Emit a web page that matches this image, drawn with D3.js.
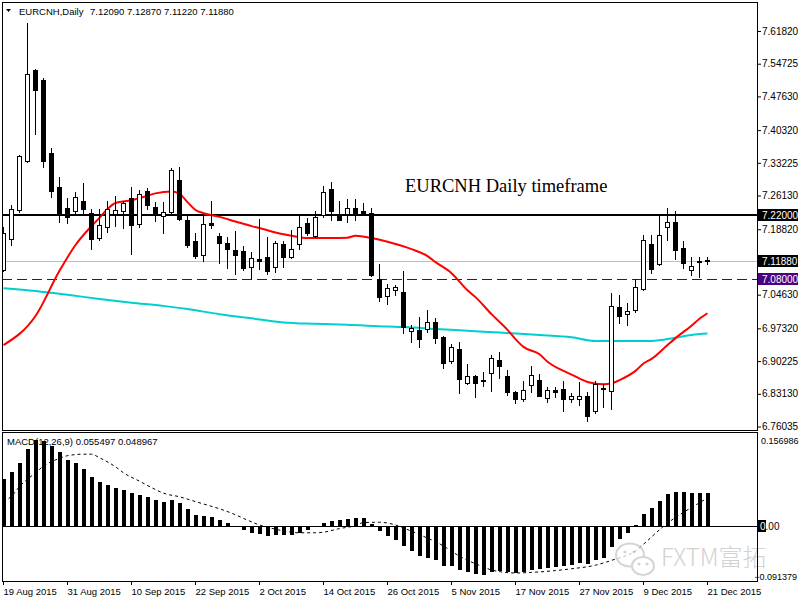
<!DOCTYPE html>
<html>
<head>
<meta charset="utf-8">
<script src="https://cdn.jsdelivr.net/npm/d3@7"></script>
<style>
  body { margin: 0; background: #fff; }
  text { font-family: "Liberation Sans", Arial, sans-serif; }
</style>
</head>
<body>
<script>
// Daily EURCNH bars, 19 Aug 2015 .. 21 Dec 2015 (index 0..88)
const open  = [7.100,7.168,7.230,7.336,7.534,7.512,7.353,7.279,7.234,7.228,
               7.250,7.223,7.170,7.194,7.221,7.228,7.255,7.199,7.271,7.236,
               7.216,7.226,7.294,7.208,7.163,7.132,7.202,7.174,7.158,7.143,
               7.141,7.106,7.124,7.127,7.106,7.156,7.129,7.156,7.201,7.174,
               7.219,7.276,7.219,7.221,7.234,7.228,7.223,7.080,7.043,7.056,
               7.051,6.967,6.970,6.971,6.986,6.954,6.902,6.929,6.854,6.869,
               6.861,6.876,6.905,6.870,6.835,6.819,6.850,6.861,6.822,6.840,
               6.841,6.819,6.819,6.826,6.793,6.844,6.837,7.019,7.004,7.012,
               7.058,7.156,7.112,7.192,7.203,7.147,7.099,7.118,7.1209];
const high  = [7.194,7.241,7.349,7.635,7.535,7.517,7.365,7.302,7.255,7.268,
               7.289,7.232,7.232,7.249,7.260,7.250,7.279,7.273,7.278,7.248,
               7.247,7.321,7.324,7.217,7.179,7.219,7.250,7.179,7.171,7.185,
               7.152,7.138,7.210,7.171,7.163,7.162,7.187,7.219,7.213,7.228,
               7.281,7.291,7.250,7.253,7.253,7.245,7.234,7.113,7.069,7.067,
               7.098,6.981,6.997,7.013,6.996,6.956,6.939,6.944,6.896,6.872,
               6.879,6.915,6.921,6.883,6.838,6.859,6.892,6.874,6.845,6.845,
               6.858,6.832,6.856,6.836,6.858,6.852,7.049,7.045,7.029,7.080,
               7.176,7.176,7.218,7.234,7.228,7.163,7.127,7.129,7.1287];
const low   = [7.098,7.154,7.226,7.333,7.395,7.324,7.259,7.205,7.202,7.221,
               7.223,7.146,7.165,7.183,7.195,7.191,7.134,7.192,7.232,7.207,
               7.181,7.221,7.208,7.150,7.125,7.120,7.191,7.116,7.105,7.092,
               7.100,7.081,7.101,7.091,7.095,7.107,7.125,7.145,7.176,7.172,
               7.215,7.208,7.208,7.205,7.208,7.219,7.087,7.033,7.027,7.046,
               6.964,6.944,6.932,6.965,6.941,6.888,6.897,6.832,6.853,6.824,
               6.848,6.838,6.865,6.829,6.811,6.815,6.836,6.826,6.813,6.825,
               6.793,6.814,6.807,6.773,6.789,6.803,6.799,6.984,6.981,7.009,
               7.056,7.094,7.111,7.165,7.124,7.105,7.090,7.085,7.1122];
const close = [7.179,7.232,7.347,7.524,7.490,7.337,7.271,7.224,7.215,7.258,
               7.232,7.168,7.197,7.233,7.229,7.245,7.198,7.265,7.241,7.221,
               7.226,7.316,7.210,7.155,7.130,7.200,7.198,7.159,7.146,7.133,
               7.105,7.125,7.119,7.098,7.158,7.129,7.146,7.192,7.181,7.214,
               7.268,7.228,7.209,7.234,7.224,7.220,7.089,7.042,7.060,7.062,
               6.977,6.974,6.950,6.986,6.952,6.899,6.933,6.863,6.869,6.854,
               6.858,6.908,6.892,6.836,6.821,6.839,6.872,6.827,6.839,6.836,
               6.821,6.826,6.826,6.784,6.853,6.841,7.021,7.001,7.010,7.064,
               7.164,7.101,7.175,7.203,7.144,7.114,7.108,7.120,7.1188];

// moving averages, read at selected bars
const redIdx = [0,4,7,9,11,12,13,14,16,18,19,21,22,23,24,25,27,29,31,33,34,36,38,41,43,44,46,48,51,53,54,56,58,59,61,63,64,65,67,68,70,71,73,75,76,77,79,80,81,83,84,86,87,88];
const redVal = [6.937,7.000,7.098,7.154,7.195,7.213,7.232,7.245,7.251,7.261,7.266,7.270,7.265,7.247,7.230,7.223,7.215,7.205,7.195,7.186,7.181,7.174,7.169,7.169,7.170,7.174,7.169,7.161,7.145,7.130,7.117,7.093,7.056,7.041,7.004,6.970,6.950,6.933,6.917,6.901,6.881,6.873,6.857,6.852,6.854,6.861,6.881,6.897,6.907,6.937,6.952,6.979,6.994,7.006];
const cyanIdx = [0,4,8,12,16,20,23,27,31,35,39,43,48,50,54,58,62,67,71,74,78,81,84,86,88];
const cyanVal = [7.060,7.054,7.046,7.037,7.029,7.022,7.015,7.004,6.995,6.986,6.983,6.981,6.977,6.976,6.972,6.968,6.964,6.959,6.954,6.946,6.946,6.946,6.953,6.959,6.962];

// MACD(12,26,9) histogram per bar and signal line at selected bars
const macdHist = [0.079,0.090,0.105,0.129,0.144,0.1425,0.134,0.123,0.111,0.105,
                  0.096,0.082,0.074,0.069,0.064,0.061,0.055,0.052,0.049,0.044,
                  0.041,0.044,0.039,0.029,0.019,0.0175,0.016,0.011,0.006,0.001,
                  -0.0075,-0.011,-0.014,-0.0175,-0.015,-0.015,-0.015,-0.011,-0.0075,-0.0025,
                  0.006,0.009,0.011,0.0125,0.014,0.014,0.004,-0.009,-0.017,-0.024,
                  -0.034,-0.042,-0.050,-0.054,-0.0575,-0.066,-0.067,-0.074,-0.077,-0.080,
                  -0.082,-0.077,-0.075,-0.077,-0.079,-0.077,-0.074,-0.072,-0.070,-0.069,
                  -0.067,-0.065,-0.0625,-0.064,-0.057,-0.053,-0.035,-0.022,-0.012,0.0025,
                  0.020,0.030,0.0425,0.054,0.0575,0.0575,0.056,0.056,0.0555];
const signalIdx = [0,1,2,4,5,7,8,10,11,12,14,15,17,19,20,22,24,25,27,29,30,32,34,35,37,39,40,42,44,45,47,49,50,52,55,57,60,61,64,66,69,71,74,76,79,80,82,83,85,87,88];
const signalVal = [0.041,0.050,0.066,0.089,0.100,0.113,0.1175,0.120,0.120,0.114,0.099,0.089,0.075,0.061,0.055,0.049,0.041,0.037,0.029,0.019,0.013,0.002,-0.005,-0.008,-0.011,-0.011,-0.010,-0.004,0.001,0.006,0.0065,0.002,-0.003,-0.014,-0.033,-0.050,-0.068,-0.073,-0.078,-0.077,-0.074,-0.071,-0.065,-0.057,-0.041,-0.030,-0.006,0.005,0.023,0.039,0.047];
const macdRange = [-0.091379, 0.156986];

// axis labels
const priceTicks = [7.61820,7.54725,7.47630,7.40320,7.33225,7.26130,7.18820,7.04630,6.97320,6.90225,6.83130,6.76035];
const dateTickIdx = [0,8,16,24,32,40,48,56,64,72,80,88];
const dateTickLabels = ["19 Aug 2015","31 Aug 2015","10 Sep 2015","22 Sep 2015","2 Oct 2015","14 Oct 2015",
                        "26 Oct 2015","5 Nov 2015","17 Nov 2015","27 Nov 2015","9 Dec 2015","21 Dec 2015"];

// horizontal levels
const resistance = 7.22000;
const support = 7.08000;
const lastPrice = 7.11880;

// Layout constants
const width = 800;
const height = 600;
const left = 2, right = 757;
const priceTop = 2, priceBottom = 430;
const macdTop = 432, macdBottom = 581;

const svg = d3.select("body").append("svg")
    .attr("width", width)
    .attr("height", height);

// scales
const x = d3.scaleLinear().domain([0, 88]).range([3, 707]);
const y = d3.scaleLinear().domain([6.76035, 7.61820]).range([426.5, 31]);
const yM = d3.scaleLinear().domain(macdRange).range([macdBottom, macdTop]);

const defs = svg.append("defs");
defs.append("clipPath").attr("id", "clipPrice")
    .append("rect").attr("x", left + 1).attr("y", priceTop + 1)
    .attr("width", right - left - 1).attr("height", priceBottom - priceTop - 1);
defs.append("clipPath").attr("id", "clipMacd")
    .append("rect").attr("x", left + 1).attr("y", macdTop + 1)
    .attr("width", right - left - 1).attr("height", macdBottom - macdTop - 1);

const pricePanel = svg.append("g").attr("clip-path", "url(#clipPrice)");
const macdPanel = svg.append("g").attr("clip-path", "url(#clipMacd)");

// --- price panel ---

// last price line (grey), support (dashed), resistance (thick black)
pricePanel.append("line")
    .attr("x1", left).attr("x2", right)
    .attr("y1", Math.round(y(lastPrice)) + 0.5).attr("y2", Math.round(y(lastPrice)) + 0.5)
    .attr("stroke", "#c0c0c0");
pricePanel.append("line")
    .attr("x1", left).attr("x2", right)
    .attr("y1", Math.round(y(support)) + 0.5).attr("y2", Math.round(y(support)) + 0.5)
    .attr("stroke", "#4b0082")
    .attr("stroke-dasharray", "10,5");
pricePanel.append("line")
    .attr("x1", left).attr("x2", right)
    .attr("y1", Math.round(y(resistance))).attr("y2", Math.round(y(resistance)))
    .attr("stroke", "#000")
    .attr("stroke-width", 2);

// moving averages
const maLine = d3.line()
    .x(d => x(d[0]) + 0.5)
    .y(d => y(d[1]))
    .curve(d3.curveMonotoneX);

pricePanel.append("path")
    .attr("d", maLine(d3.zip(cyanIdx, cyanVal)))
    .attr("fill", "none")
    .attr("stroke", "#00ced1")
    .attr("stroke-width", 2);

pricePanel.append("path")
    .attr("d", maLine(d3.zip(redIdx, redVal)))
    .attr("fill", "none")
    .attr("stroke", "#ff0000")
    .attr("stroke-width", 2);

// candles
const bars = d3.range(open.length).map(i => ({ i, o: open[i], h: high[i], l: low[i], c: close[i] }));

const candle = pricePanel.selectAll("g.candle")
    .data(bars)
    .enter()
    .append("g")
    .attr("class", "candle");

candle.append("line")
    .attr("x1", d => x(d.i) + 0.5).attr("x2", d => x(d.i) + 0.5)
    .attr("y1", d => Math.round(y(d.h))).attr("y2", d => Math.round(y(d.l)) + 1)
    .attr("stroke", "#000");

candle.append("rect")
    .attr("x", d => d.c >= d.o ? x(d.i) - 1.5 : x(d.i) - 2)
    .attr("y", d => {
        const t = Math.round(y(Math.max(d.o, d.c)));
        return d.c >= d.o ? t + 0.5 : t;
    })
    .attr("width", d => d.c >= d.o ? 4 : 5)
    .attr("height", d => {
        const t = Math.round(y(Math.max(d.o, d.c)));
        const b = Math.round(y(Math.min(d.o, d.c)));
        return d.c >= d.o ? Math.max(b - t, 0) : Math.max(b - t, 1) + 1;
    })
    .attr("fill", d => d.c >= d.o ? "#fff" : "#000")
    .attr("stroke", d => d.c >= d.o ? "#000" : "none");

// chart annotation
svg.append("text")
    .attr("x", 405)
    .attr("y", 192)
    .style("font-family", "'Liberation Serif', 'Times New Roman', serif")
    .style("font-size", "18.5px")
    .text("EURCNH Daily timeframe");

// header
svg.append("path")
    .attr("d", "M6,9 L11,9 L8.5,12 Z")
    .attr("fill", "#000");
svg.append("text")
    .attr("x", 19).attr("y", 14.5)
    .style("font-size", "9.5px")
    .text("EURCNH,Daily");
svg.append("text")
    .attr("x", 90).attr("y", 14.5)
    .style("font-size", "9.5px")
    .text([open[88], high[88], low[88], close[88]].map(d3.format(".5f")).join(" "));

// --- MACD panel ---
macdPanel.selectAll("rect.hist")
    .data(macdHist)
    .enter()
    .append("rect")
    .attr("class", "hist")
    .attr("x", (d, i) => x(i) - 1)
    .attr("y", d => Math.round(Math.min(yM(d), yM(0))))
    .attr("width", 4)
    .attr("height", d => Math.max(1, Math.round(Math.abs(yM(d) - yM(0)))))
    .attr("fill", "#000");

macdPanel.append("line")
    .attr("x1", left).attr("x2", right)
    .attr("y1", Math.round(yM(0)) + 0.5).attr("y2", Math.round(yM(0)) + 0.5)
    .attr("stroke", "#000");

macdPanel.append("path")
    .attr("d", d3.line()
        .x(d => x(d[0]) + 0.5)
        .y(d => yM(d[1]))
        .curve(d3.curveMonotoneX)(d3.zip(signalIdx, signalVal)))
    .attr("fill", "none")
    .attr("stroke", "#000")
    .attr("stroke-width", 1)
    .attr("stroke-dasharray", "3,3");

svg.append("text")
    .attr("x", 7).attr("y", 445)
    .style("font-size", "9.5px")
    .text("MACD(12,26,9) 0.055497 0.048967");

// watermark
const mark = svg.append("g").attr("opacity", 0.75);
mark.append("ellipse").attr("cx", 630).attr("cy", 555).attr("rx", 14).attr("ry", 11.5)
    .attr("fill", "#fff").attr("stroke", "#c8c8c8").attr("stroke-width", 2);
mark.append("ellipse").attr("cx", 643).attr("cy", 566).attr("rx", 11).attr("ry", 9)
    .attr("fill", "#fff").attr("stroke", "#c8c8c8").attr("stroke-width", 2);
[[625, 552], [634, 552], [639, 564], [647, 564]].forEach(p => {
    mark.append("circle").attr("cx", p[0]).attr("cy", p[1]).attr("r", 1.6).attr("fill", "#c8c8c8");
});
mark.append("text")
    .attr("x", 661).attr("y", 566)
    .style("font-family", "'Noto Sans CJK SC', 'Noto Sans', sans-serif")
    .style("font-weight", 300)
    .style("font-size", "24px")
    .attr("fill", "#c4c4c4")
    .text("FXTM富拓");

// --- frames ---
svg.append("rect")
    .attr("x", left + 0.5).attr("y", priceTop + 0.5)
    .attr("width", right - left).attr("height", priceBottom - priceTop)
    .attr("fill", "none").attr("stroke", "#000");
svg.append("rect")
    .attr("x", left + 0.5).attr("y", macdTop + 0.5)
    .attr("width", right - left).attr("height", macdBottom - macdTop)
    .attr("fill", "none").attr("stroke", "#000");

// --- axes ---
const priceAxis = svg.append("g")
    .attr("transform", `translate(${right}, 0)`)
    .call(d3.axisRight(y)
        .tickValues(priceTicks)
        .tickSize(4)
        .tickPadding(1)
        .tickFormat(d3.format(".5f")));
priceAxis.select(".domain").remove();
priceAxis.selectAll("text")
    .style("font-family", "'Liberation Sans', Arial, sans-serif")
    .style("font-size", "10px")
    .attr("fill", "#000");

// level labels on the price axis
const levelLabels = [
    { v: resistance, bg: "#000" },
    { v: lastPrice, bg: "#000" },
    { v: support, bg: "#4b0082" }
];
levelLabels.forEach(d => {
    const yy = Math.round(y(d.v));
    svg.append("rect")
        .attr("x", right + 1).attr("y", yy - 6)
        .attr("width", 40).attr("height", 12)
        .attr("fill", d.bg);
    svg.append("text")
        .attr("x", right + 5).attr("y", yy + 4)
        .style("font-size", "10px")
        .attr("fill", "#fff")
        .text(d3.format(".5f")(d.v));
});

// MACD scale labels
svg.append("text")
    .attr("x", 761).attr("y", 444)
    .style("font-size", "9px")
    .text(d3.format(".6f")(macdRange[1]));
svg.append("text")
    .attr("x", 797).attr("y", 580)
    .attr("text-anchor", "end")
    .style("font-size", "9px")
    .text(d3.format(".6f")(macdRange[0]));
const zeroY = Math.round(yM(0));
svg.append("rect")
    .attr("x", right + 1).attr("y", zeroY - 6)
    .attr("width", 8).attr("height", 12)
    .attr("fill", "#000");
const zeroText = svg.append("text")
    .attr("x", right + 3).attr("y", zeroY + 4)
    .style("font-size", "10px");
zeroText.append("tspan").attr("fill", "#fff").text("0");
zeroText.append("tspan").attr("fill", "#000").text(".00");

// date axis
const dateAxis = svg.append("g")
    .attr("transform", `translate(0, ${macdBottom})`)
    .call(d3.axisBottom(x)
        .tickValues(dateTickIdx)
        .tickSize(4)
        .tickPadding(3)
        .tickFormat((d, i) => dateTickLabels[i]));
dateAxis.select(".domain").remove();
dateAxis.selectAll("text")
    .attr("text-anchor", "start")
    .attr("x", 0)
    .style("font-family", "'Liberation Sans', Arial, sans-serif")
    .style("font-size", "9.5px")
    .attr("fill", "#000");
</script>
</body>
</html>
